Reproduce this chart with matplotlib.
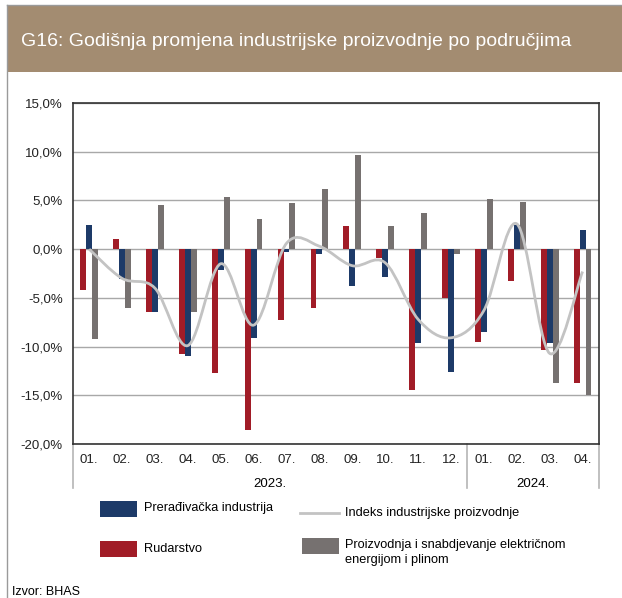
import numpy as np
import matplotlib
matplotlib.use("Agg")
import matplotlib.pyplot as plt
from matplotlib.path import Path
from matplotlib.patches import PathPatch, Rectangle
from matplotlib.lines import Line2D
import matplotlib.transforms as mtransforms

plt.rcParams['font.family'] = ['Liberation Sans', 'DejaVu Sans']

mjeseci = ["01.", "02.", "03.", "04.", "05.", "06.", "07.", "08.", "09.", "10.", "11.", "12.",
           "01.", "02.", "03.", "04."]
rudarstvo = [-4.2, 1.0, -6.5, -10.8, -12.7, -18.6, -7.3, -6.0, 2.4, -0.9, -14.5, -5.0,
             -9.5, -3.3, -10.4, -13.7]
preradjivacka = [2.5, -3.1, -6.5, -11.0, -2.1, -9.1, -0.3, -0.5, -3.8, -2.9, -9.6, -12.6,
                 -8.5, 2.5, -9.6, 2.0]
energija = [-9.2, -6.0, 4.5, -6.5, 5.4, 3.1, 4.7, 6.2, 9.7, 2.4, 3.7, -0.5,
            5.1, 4.8, -13.7, -15.0]
indeks = [0.0, -3.0, -4.0, -9.9, -1.5, -7.8, 0.6, 0.3, -1.7, -1.4, -7.2, -9.1,
          -6.3, 2.6, -10.7, -2.3]
godine = ["2023.", "2024."]

c_blue = "#1d3a68"
c_red = "#a11c27"
c_gray = "#767170"
c_line = "#c3c3c3"
c_banner = "#a38c71"

fig = plt.figure(figsize=(6.22, 5.98), dpi=100)
W, H = 622, 598

# okvir i naslov
fig.add_artist(Line2D([7 / W, 7 / W], [0, 1 - 5 / H], color="#9a9a9a", lw=1.0))
fig.add_artist(Line2D([7 / W, 1], [1 - 5 / H, 1 - 5 / H], color="#9a9a9a", lw=1.0))
fig.add_artist(Rectangle((7 / W, 1 - 72 / H), 1 - 7 / W, 67 / H, transform=fig.transFigure,
                         color=c_banner, lw=0))
fig.text(21 / W, 1 - 42 / H, "G16: Godišnja promjena industrijske proizvodnje po područjima",
         color="white", fontsize=14, va="center", ha="left")

ax = fig.add_axes([72.7 / W, 1 - 444 / H, (599 - 72.7) / W, (444 - 103) / H])
x = np.arange(len(mjeseci))
w = 0.18
ax.bar(x - w, rudarstvo, w, color=c_red, zorder=3)
ax.bar(x, preradjivacka, w, color=c_blue, zorder=3)
ax.bar(x + w, energija, w, color=c_gray, zorder=3)

# zaglađena linija (Bezier kroz tačke)
pts = np.column_stack([x, indeks]).astype(float)
verts = [pts[0]]
codes = [Path.MOVETO]
n = len(pts)
for i in range(n - 1):
    p0 = pts[max(i - 1, 0)]
    p1 = pts[i]
    p2 = pts[i + 1]
    p3 = pts[min(i + 2, n - 1)]
    verts += [p1 + (p2 - p0) / 6, p2 - (p3 - p1) / 6, p2]
    codes += [Path.CURVE4] * 3
ax.add_patch(PathPatch(Path(verts, codes), fill=False, edgecolor=c_line, lw=2.0, zorder=4))

ax.set_xlim(-0.5, len(mjeseci) - 0.5)
ax.set_ylim(-20, 15)
ax.set_yticks(np.arange(-20, 16, 5))
ax.set_yticklabels([f"{v:.1f}%".replace(".", ",") for v in np.arange(-20, 16, 5)])
ax.set_xticks(x)
ax.set_xticklabels(mjeseci)
ax.tick_params(axis="both", length=0, labelsize=9.5, colors="#222222")
ax.tick_params(axis="y", pad=7)
ax.tick_params(axis="x", pad=7)
for s in ax.spines.values():
    s.set_color("#333333")
    s.set_linewidth(1.2)
ax.grid(axis="y", color="#a8a8a8", lw=1.0, zorder=0)

# separatori godina ispod osi
trans = mtransforms.blended_transform_factory(ax.transData, ax.transAxes)
for xs in [-0.5, 11.5, 15.5]:
    ax.add_line(Line2D([xs, xs], [0, -44 / 341], transform=trans, color="#b5b5b5",
                       lw=1.2, clip_on=False))
ax.text(5.5, -40 / 341, godine[0], transform=trans, ha="center", va="center", fontsize=9.5)
ax.text(13.5, -40 / 341, godine[1], transform=trans, ha="center", va="center", fontsize=9.5)

# legenda
def fy(py):
    return 1 - py / H

fig.add_artist(Rectangle((100 / W, fy(517)), 37 / W, 16 / H, transform=fig.transFigure,
                         color=c_blue, lw=0))
fig.text(144 / W, fy(508), "Prerađivačka industrija", fontsize=9.2, va="center")
fig.add_artist(Rectangle((100 / W, fy(557)), 37 / W, 16 / H, transform=fig.transFigure,
                         color=c_red, lw=0))
fig.text(144 / W, fy(549), "Rudarstvo", fontsize=9.2, va="center")
fig.add_artist(Line2D([300 / W, 339 / W], [fy(513), fy(513)], color=c_line, lw=2.0))
fig.text(345 / W, fy(513), "Indeks industrijske proizvodnje", fontsize=9.2, va="center")
fig.add_artist(Rectangle((302 / W, fy(554)), 37 / W, 16 / H, transform=fig.transFigure,
                         color=c_gray, lw=0))
fig.text(345 / W, fy(539), "Proizvodnja i snabdjevanje električnom\nenergijom i plinom",
         fontsize=9.2, va="top", linespacing=1.3, transform=fig.transFigure)

fig.text(12 / W, fy(592), "Izvor: BHAS", fontsize=9, va="center")

fig.savefig("out.png", dpi=100)
